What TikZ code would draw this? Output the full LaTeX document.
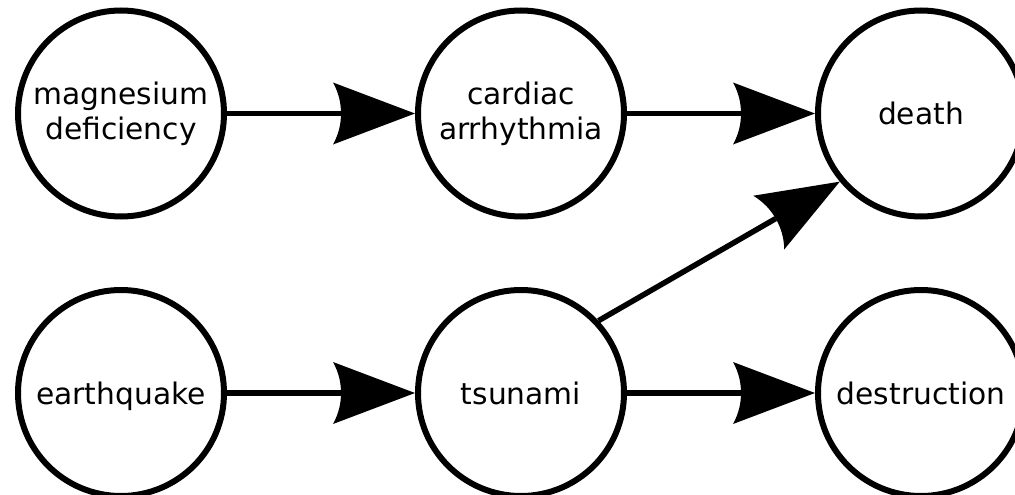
\documentclass[tikz,border=0pt]{standalone}
\usepackage{fontspec}
\setmainfont{DejaVu Sans}
\pgfdeclarearrow{
  name = gvnormal,
  setup code = {
    \pgfarrowssettipend{0pt}
    \pgfarrowssetlineend{-74pt}
    \pgfarrowsupperhullpoint{0pt}{0pt}
    \pgfarrowsupperhullpoint{-82pt}{31pt}
  },
  drawing code = {
    \pgfpathmoveto{\pgfqpoint{0pt}{0pt}}
    \pgfpathlineto{\pgfqpoint{-82pt}{31pt}}
    \pgfpathcurveto{\pgfqpoint{-76pt}{20pt}}{\pgfqpoint{-74pt}{10pt}}{\pgfqpoint{-74pt}{0pt}}
    \pgfpathcurveto{\pgfqpoint{-74pt}{-10pt}}{\pgfqpoint{-76pt}{-20pt}}{\pgfqpoint{-82pt}{-31pt}}
    \pgfpathclose
    \pgfusepathqfill
  },
}
\tikzset{
  state/.style={circle, draw=black, fill=white, line width=6pt, minimum size=206pt,
    inner sep=0pt, align=center, font=\fontsize{29.7}{35}\selectfont},
  oneline/.style={text depth=0pt},
  edge/.style={line width=5.5pt, -gvnormal},
}
\begin{document}
\begin{tikzpicture}[x=1pt,y=-1pt]
\useasboundingbox (0,0) rectangle (1015,495);
\node[state] (mag) at (121,113.5) {magnesium\\deficiency};
\node[state] (card) at (521,113.5) {cardiac\\arrhythmia};
\node[state, oneline] (death) at (921,113.5) {death};
\node[state, oneline] (eq) at (121,393) {earthquake};
\node[state, oneline] (tsu) at (521,393) {tsunami};
\node[state, oneline] (des) at (921,393) {destruction};
\draw[edge] (mag) -- (card);
\draw[edge] (card) -- (death);
\draw[edge] (eq) -- (tsu);
\draw[edge] (tsu) -- (des);
\draw[edge] (tsu.43.5) -- (death.220);
\end{tikzpicture}
\end{document}
